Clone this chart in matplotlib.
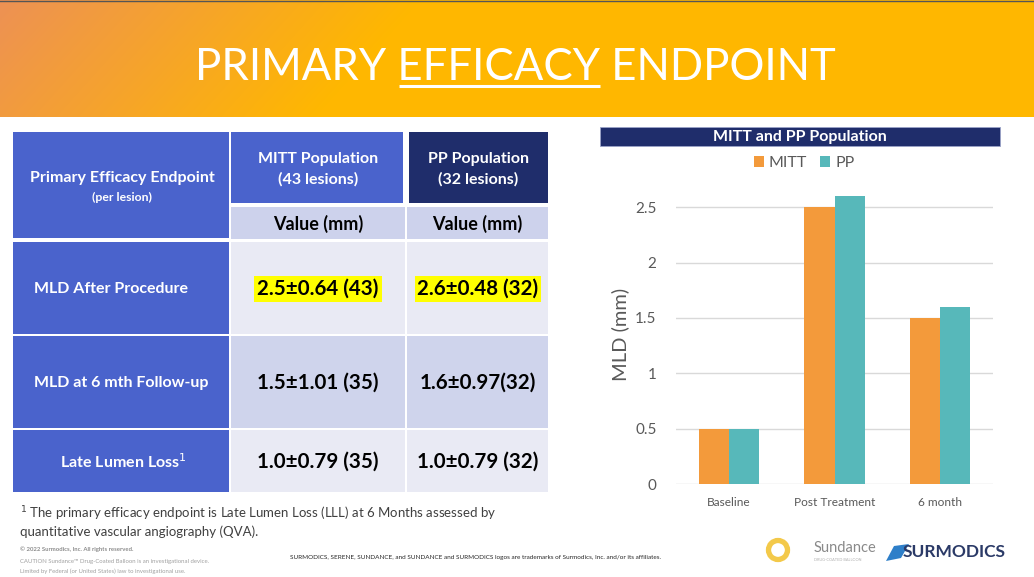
import numpy as np
import matplotlib.pyplot as plt
from matplotlib.patches import Rectangle, Polygon, Circle

plt.rcParams['font.family'] = ['Lato', 'DejaVu Sans']

# ---- data ----
title_parts = ["PRIMARY ", "EFFICACY", " ENDPOINT"]
col_heads = ["MITT Population\n(43 lesions)", "PP Population\n(32 lesions)"]
unit_head = "Value (mm)"
row_labels = ["MLD After Procedure", "MLD at 6 mth Follow-up", "Late Lumen Loss$^1$"]
mitt_text = ["2.5±0.64 (43)", "1.5±1.01 (35)", "1.0±0.79 (35)"]
pp_text = ["2.6±0.48 (32)", "1.6±0.97(32)", "1.0±0.79 (32)"]
highlight = [True, False, False]

categories = ["Baseline", "Post Treatment", "6 month"]
mitt = [0.5, 2.5, 1.5]
pp = [0.5, 2.6, 1.6]
yticks = [0, 0.5, 1, 1.5, 2, 2.5]
ytick_labels = ["0", "0.5", "1", "1.5", "2", "2.5"]

BLUE = "#4A63CC"
NAVY = "#1F2D6B"
ORANGE = "#F39A3B"
TEAL = "#57B8BA"
GRAY = "#595959"

fig = plt.figure(figsize=(10.34, 5.77), dpi=100)
bg = fig.add_axes([0, 0, 1, 1])
bg.set_xlim(0, 1034)
bg.set_ylim(577, 0)
bg.axis('off')

# header band with gradient
xx, yy = np.meshgrid(np.arange(1034), np.arange(117))
d = np.clip((xx + 0.9 * yy) / 420.0, 0, 1)[..., None]
c0 = np.array([0.93, 0.57, 0.33])
c1 = np.array([1.0, 0.72, 0.0])
grad = c0 * (1 - d) + c1 * d
bg.imshow(grad, extent=[0, 1034, 117, 0], aspect='auto', zorder=0)
bg.plot([0, 1034], [0.5, 0.5], color="#555555", lw=1, zorder=1)

# title, with the middle word underlined
fig.canvas.draw()
r = fig.canvas.get_renderer()
tkw = dict(color='white', fontsize=31.5, va='baseline', ha='left')
full = bg.text(0, 80, "".join(title_parts), **tkw)
wfull = full.get_window_extent(r).width
full.set_x(515 - wfull / 2)
probe = bg.text(0, 80, title_parts[0], **tkw)
w0 = probe.get_window_extent(r).width
probe.set_text(title_parts[0] + title_parts[1])
w1 = probe.get_window_extent(r).width
probe.remove()
x0 = 515 - wfull / 2
bg.plot([x0 + w0 + 2, x0 + w1], [86, 86], color='white', lw=2.2, solid_capstyle='butt')

# ---- table ----
def cell(x0, y0, x1, y1, color):
    bg.add_patch(Rectangle((x0, y0), x1 - x0, y1 - y0, facecolor=color, edgecolor='none', zorder=1))

cell(13, 132, 229, 238, BLUE)
cell(231, 132, 403, 203, BLUE)
cell(409, 132, 548, 203, NAVY)
cell(231, 207, 405, 239, "#CDD2EC")
cell(407, 207, 548, 239, "#CDD2EC")
bg.text(122, 178, "Primary Efficacy Endpoint", color='white', fontsize=11.5, fontweight='bold', ha='center', va='center')
bg.text(122, 197, "(per lesion)", color='white', fontsize=8.8, fontweight='bold', ha='center', va='center')
bg.text(318, 169, col_heads[0], color='white', fontsize=11.5, fontweight='bold', ha='center', va='center', linespacing=1.5)
bg.text(478, 169, col_heads[1], color='white', fontsize=11.5, fontweight='bold', ha='center', va='center', linespacing=1.5)
bg.text(318, 224, unit_head, color='black', fontsize=13, fontweight='bold', ha='center', va='center')
bg.text(477, 224, unit_head, color='black', fontsize=13, fontweight='bold', ha='center', va='center')

row_bounds = [(242, 334), (336, 428), (430, 492)]
row_fill = ["#E9EAF4", "#CFD4EC", "#E9EAF4"]
for i, (y0, y1) in enumerate(row_bounds):
    cell(13, y0, 229, y1, BLUE)
    cell(231, y0, 405, y1, row_fill[i])
    cell(407, y0, 548, y1, row_fill[i])
    yc = (y0 + y1) / 2 + 1
    if i < 2:
        bg.text(34, yc, row_labels[i], color='white', fontsize=11.5, fontweight='bold', ha='left', va='center')
    else:
        bg.text(123, yc, row_labels[i], color='white', fontsize=11.5, fontweight='bold', ha='center', va='center')
    bbox = dict(facecolor='#FFFF00', edgecolor='none', pad=2) if highlight[i] else None
    bg.text(318, yc, mitt_text[i], color='black', fontsize=14.8, fontweight='bold', ha='center', va='center', bbox=bbox, zorder=3)
    bg.text(478, yc, pp_text[i], color='black', fontsize=14.8, fontweight='bold', ha='center', va='center', bbox=bbox, zorder=3)

# footnotes
bg.text(20, 514, "$^1$ The primary efficacy endpoint is Late Lumen Loss (LLL) at 6 Months assessed by",
        color="#404040", fontsize=9.5, ha='left', va='center')
bg.text(20, 532, "quantitative vascular angiography (QVA).", color="#404040", fontsize=9.5, ha='left', va='center')
bg.text(20, 549, "© 2022 Surmodics, Inc. All rights reserved.", color="#8C8C8C", fontsize=4.3, fontweight='bold', ha='left', va='center')
bg.text(20, 561, "CAUTION Sundance™ Drug-Coated Balloon is an investigational device.", color="#A0A0A0", fontsize=4.3, ha='left', va='center')
bg.text(20, 571, "Limited by Federal (or United States) law to investigational use.", color="#A0A0A0", fontsize=4.3, ha='left', va='center')
bg.text(290, 557, "SURMODICS, SERENE, SUNDANCE, and SUNDANCE and SURMODICS logos are trademarks of Surmodics, Inc. and/or its affiliates.",
        color="#262626", fontsize=4.6, ha='left', va='center')

# logos (approximate)
bg.add_patch(Circle((778, 550), 9.5, facecolor='none', edgecolor='#F3C94A', lw=3.8, zorder=2))
bg.text(814, 548, "Sundance", color="#8A8A8A", fontsize=10.5, ha='left', va='center')
bg.text(814, 560, "DRUG-COATED BALLOON", color="#B0B0B0", fontsize=2.8, ha='left', va='center')
bg.add_patch(Polygon([[886, 561], [894, 546], [909, 544], [901, 558]], closed=True, facecolor="#2E7FC9", edgecolor='none', zorder=2))
bg.text(903, 552, "SURMODICS", color="#2B3A67", fontsize=12.5, fontweight='bold', ha='left', va='center')

# ---- chart ----
bg.add_patch(Rectangle((600, 127), 400, 19, facecolor=NAVY, edgecolor='#9AA3C8', lw=0.6, zorder=1))
bg.text(800, 137, "MITT and PP Population", color='white', fontsize=11.5, fontweight='bold', ha='center', va='center')

ax = fig.add_axes([676 / 1034, 1 - 484 / 577, 317 / 1034, 299 / 577])
x = np.arange(len(categories))
w = 0.285
ax.bar(x - w / 2, mitt, w, color=ORANGE, label="MITT", zorder=2)
ax.bar(x + w / 2, pp, w, color=TEAL, label="PP", zorder=2)
ax.set_xlim(-0.5, 2.5)
ax.set_ylim(0, 2.7)
ax.set_yticks(yticks)
ax.set_yticklabels(ytick_labels)
ax.set_xticks(x)
ax.set_xticklabels(categories)
ax.grid(axis='y', color='#D9D9D9', lw=1, zorder=0)
for s in ax.spines.values():
    s.set_visible(False)
ax.tick_params(axis='y', length=0, labelsize=11, labelcolor=GRAY, pad=14)
ax.tick_params(axis='x', length=0, labelsize=8.6, labelcolor=GRAY, pad=9)
ax.set_ylabel("MLD (mm)", color=GRAY, fontsize=14.5, labelpad=4)
ax.patch.set_alpha(0)
ax.legend(loc='center', bbox_to_anchor=(804 / 1034, 1 - 163 / 577), bbox_transform=fig.transFigure,
          ncol=2, frameon=False, fontsize=11.5, labelcolor=GRAY, handlelength=0.65, handleheight=0.65,
          handletextpad=0.3, columnspacing=0.8)

fig.savefig("out.png", dpi=100)
